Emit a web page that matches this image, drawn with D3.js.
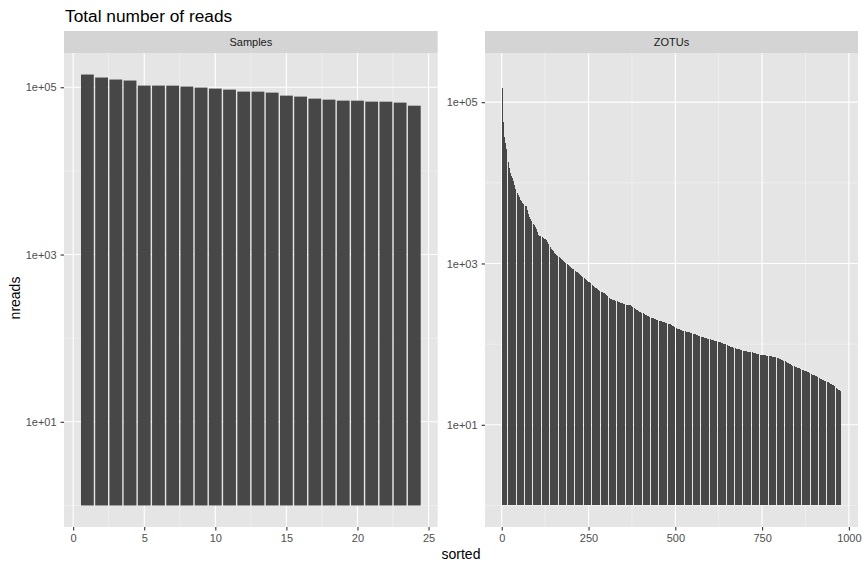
<!DOCTYPE html>
<html><head><meta charset="utf-8">
<script src="https://cdn.jsdelivr.net/npm/d3@7/dist/d3.min.js"></script>
<style>body{margin:0;background:#fff}svg{display:block}</style>
</head><body><svg id="c" width="866" height="569"></svg>
<script>
const chartTitle = "Total number of reads";
const xTitle = "sorted";
const yTitle = "nreads";
const facets = ["Samples", "ZOTUs"];

// reads per sample, sorted decreasingly (rank 1..24)
const sampleReads = [141900, 130700, 123700, 120300, 104700, 104600, 104500, 101900, 99100, 96400,
  93700, 88700, 88600, 86300, 79400, 77300, 73100, 71100, 69200, 69100, 67300, 67200, 65500, 60200];

// reads per ZOTU, sorted decreasingly (rank 1..977)
const zotuReads = [
  220000, 150000, 100000, 72000, 56000, 47000, 41000, 37500, 35000, 33000, 31200, 30000, 28800, 26500, 24500, 22500, 20800, 19500, 18300, 17200, 16200, 15300, 14400, 13700,
  13300, 12900, 12600, 12300, 12000, 11700, 11400, 11100, 10900,
  10500, 10100, 9700, 9300, 9000, 8700, 8400, 8200, 8000, 7800,
  7650, 7500, 7350, 7200, 7050, 6900, 6750, 6600, 6450, 6300, 6200, 6100, 6000, 5900,
  5820, 5760, 5700, 5640, 5580, 5520, 5460, 5400, 5340, 5280, 5230, 5180, 5140, 5100, 5060,
  4850, 4650, 4450, 4280, 4130, 4000, 3880, 3780, 3690, 3620,
  3560, 3500, 3440, 3390, 3330, 3270, 3220, 3160, 3110, 3060, 3010, 2960, 2910, 2860,
  2810, 2760, 2710, 2650, 2600,
  2510, 2430, 2340, 2260,
  2240, 2230, 2220, 2210, 2200, 2190, 2180, 2170, 2160, 2150,
  2130, 2110, 2090, 2070, 2050,
  2040, 2030, 2020, 2010, 2000, 1990, 1980, 1970, 1960, 1945,
  1900, 1860, 1820, 1780, 1740, 1700, 1670, 1640, 1610,
  1590, 1570, 1550, 1530, 1510, 1490, 1470, 1450, 1430, 1410, 1390, 1370, 1360, 1340, 1330, 1310, 1300, 1290, 1275,
  1265, 1255, 1245, 1235, 1225, 1210, 1200, 1190, 1180, 1170, 1160, 1150, 1140, 1130, 1120, 1110, 1100, 1090, 1080, 1070, 1060, 1050, 1045, 1040, 1030, 1025, 1020, 1010, 1000,
  992, 984, 976, 968, 960, 952, 944, 936, 928, 920, 912, 904, 896, 888, 880, 872, 864, 857, 850, 843, 836, 829, 822, 815, 808, 802, 796, 792, 789,
  783, 777, 771, 765, 759, 753, 747, 741, 735, 729, 723, 717, 711, 705, 699, 693, 687, 681, 675, 669, 663, 657, 651, 646, 641, 636, 631, 626, 622,
  617, 612, 607, 602, 597, 592, 587, 582, 577, 572, 567, 562, 557, 552, 547, 542, 537, 532, 527, 522, 518, 514, 510, 506, 502, 499, 496, 493, 491,
  487, 483, 478, 474, 470, 466, 462, 458, 454,
  452, 450, 448, 446, 444, 442, 440, 437, 434, 431, 428, 426, 425, 423,
  419, 415, 411, 407, 403, 399, 395, 391, 387, 383, 380, 377, 374, 371, 368,
  366, 364, 362, 361, 360, 358, 356, 355, 354, 352, 350, 349, 348, 347, 346, 345, 344, 343, 342, 341, 340, 338, 337, 335, 334, 333, 331, 330, 328,
  327, 326, 325, 324, 323, 322, 321, 320, 319, 318, 317, 316, 315, 314, 313, 312, 311, 310, 309, 308, 307, 307, 306, 306, 305, 305, 304, 304, 304,
  302, 300, 298, 296, 294, 292, 290, 288, 286, 284, 282, 280, 278, 276, 274, 272, 270, 268, 266, 264, 262, 260, 258, 257, 256, 254, 253, 251,
  250, 249, 248, 247, 245, 244, 243, 242, 241, 240, 238, 237, 236, 235, 234, 232, 231, 230, 229, 228, 226, 225, 224, 223, 222, 221, 220, 219, 217,
  216, 215, 214, 213, 213, 212, 211, 210, 209, 208, 208, 207, 206, 205, 204, 203, 203, 202, 201, 200, 199, 199, 198, 197, 197, 196, 195, 195, 194,
  193, 193, 192, 192, 191, 190, 190, 189, 189, 188, 187, 187, 186, 186, 185, 184, 184, 183, 183, 182, 181, 181, 180, 180, 179, 179, 178, 178, 177,
  176, 175, 174, 173, 172, 171, 170, 169, 168, 167, 166, 164, 163, 161,
  160, 160, 159, 158, 158, 157, 156, 156, 155, 154, 154, 153, 152, 152, 151, 150, 150, 149, 148, 148, 147, 147, 146, 146,
  146, 145, 145, 145, 144, 144, 144, 143, 143, 143, 142, 142, 142, 141, 141, 141, 141, 140, 140, 140,
  139, 139, 138, 138, 137, 137, 136, 136, 135, 134, 134, 133, 133, 132, 132, 131, 131, 130, 130, 129, 129, 128, 128, 127, 127, 126, 126, 125,
  125, 124, 124, 124, 123, 123, 122, 122, 122, 121, 121, 120, 120, 120, 119, 119, 118, 118, 118, 117, 117, 117, 116, 116, 116, 116, 115, 115, 115,
  115, 114, 114, 114, 113, 113, 112, 112, 112, 111, 111, 111, 110, 110, 110, 109, 109, 109, 108, 108, 108, 107, 107, 107, 106, 106, 106, 105, 105,
  105, 104, 104, 103, 103, 103, 102, 102, 101, 101, 101, 100, 100, 99, 99, 99, 98, 98, 97, 97, 97, 96, 96, 95, 95, 95, 94, 94, 94,
  93, 93, 93, 92, 92, 92, 91, 91, 91, 90, 90, 90, 90, 89, 89, 89, 88, 88, 88, 88, 87, 87, 87, 87, 86, 86, 86, 86, 86,
  85, 85, 85, 85, 84, 84, 84, 84, 83, 83, 83, 83, 83, 82, 82, 82, 82, 82, 81, 81, 81, 81, 81, 81, 80, 80, 80, 80, 80,
  80, 79, 79, 79, 79, 79, 78, 78, 78, 78, 78, 77, 77, 77, 77, 77, 76, 76, 76, 76, 76, 76, 75, 75, 75, 75, 75, 75,
  74, 74, 74, 74, 74, 74, 74, 74, 73, 73, 73, 73, 73, 73, 73, 73, 73, 73, 72, 72, 72, 72, 72, 72, 72, 72, 72, 72, 71,
  71, 71, 71, 71, 71, 70, 70, 70, 70, 70, 70, 69, 69, 69, 69, 69, 68, 68, 68, 68, 68, 67, 67, 67, 67, 67, 66, 66, 66,
  65, 65, 65, 64, 64, 64, 63, 63, 63, 62, 62, 62, 61, 61, 61, 60, 60, 60, 59, 59, 59, 58, 58, 58, 57, 57, 57, 56, 56,
  56, 56, 55, 55, 55, 55, 54, 54, 54, 54, 53, 53, 53, 53, 52, 52, 52, 52, 52, 51, 51, 51, 51, 51, 50, 50, 50, 50, 50,
  49, 49, 49, 49, 49, 48, 48, 48, 48, 48, 47, 47, 47, 47, 46, 46, 46, 46, 46, 45, 45, 45, 45, 45, 44, 44, 44, 44, 44,
  43, 43, 43, 43, 42, 42, 42, 42, 42, 41, 41, 41, 41, 40, 40, 40, 40, 40, 39, 39, 39, 39, 39, 38, 38, 38, 38, 38,
  37, 37, 37, 37, 37, 37, 36, 36, 36, 36, 36, 36, 35, 35, 35, 35, 35, 35, 34, 34, 34, 34, 34, 34, 33, 33, 33, 33, 33,
  32, 32, 32, 32, 32, 31, 31, 31, 31, 31, 30, 30, 30, 30, 30, 29, 29, 29, 29,
  28, 28, 28, 28, 27, 27, 27, 27, 27, 26, 26, 26
];

const yTickValues = [10, 1000, 100000];
const yTickLabels = ["1e+01", "1e+03", "1e+05"];
const yMinorValues = [1, 100, 10000];
const sampleXTicks = [0, 5, 10, 15, 20, 25];
const zotuXTicks = [0, 250, 500, 750, 1000];

const FONT = "'Liberation Sans', Arial, Helvetica, sans-serif";
const svg = d3.select("#c");
const panelTop = 53, panelBottom = 527, stripTop = 31;
const panels = [
  {name: facets[0], values: sampleReads, xticks: sampleXTicks, x0: 64, x1: 437.7},
  {name: facets[1], values: zotuReads, xticks: zotuXTicks, x0: 485, x1: 858}
];

svg.append("rect").attr("width", 866).attr("height", 569).attr("fill", "#fff");

panels.forEach(p => {
  const n = p.values.length;
  const lo = 0.55, hi = n + 0.45, span = hi - lo;
  const x = d3.scaleLinear().domain([lo - 0.05 * span, hi + 0.05 * span]).range([p.x0, p.x1]);
  const L = Math.log10(d3.max(p.values));
  const y = d3.scaleLog().domain([Math.pow(10, -0.05 * L), Math.pow(10, 1.05 * L)]).range([panelBottom, panelTop]);
  const g = svg.append("g");

  // panel background
  g.append("rect").attr("x", p.x0).attr("y", panelTop).attr("width", p.x1 - p.x0)
    .attr("height", panelBottom - panelTop).attr("fill", "#E5E5E5");

  // minor grid
  const xMinor = d3.pairs(p.xticks).map(([a, b]) => (a + b) / 2);
  g.selectAll(".ymin").data(yMinorValues).join("line")
    .attr("x1", p.x0).attr("x2", p.x1).attr("y1", d => y(d)).attr("y2", d => y(d))
    .attr("stroke", "#F5F5F5").attr("stroke-width", 0.55);
  g.selectAll(".xmin").data(xMinor).join("line")
    .attr("y1", panelTop).attr("y2", panelBottom).attr("x1", d => x(d)).attr("x2", d => x(d))
    .attr("stroke", "#F5F5F5").attr("stroke-width", 0.55);
  // major grid
  g.selectAll(".ymaj").data(yTickValues).join("line")
    .attr("x1", p.x0).attr("x2", p.x1).attr("y1", d => y(d)).attr("y2", d => y(d))
    .attr("stroke", "#fff").attr("stroke-width", 1.1);
  g.selectAll(".xmaj").data(p.xticks).join("line")
    .attr("y1", panelTop).attr("y2", panelBottom).attr("x1", d => x(d)).attr("x2", d => x(d))
    .attr("stroke", "#fff").attr("stroke-width", 1.1);

  // bars
  g.append("g").attr("shape-rendering", n > 100 ? "crispEdges" : "auto")
    .selectAll("rect").data(p.values).join("rect")
    .attr("x", (d, i) => x(i + 1 - 0.45))
    .attr("width", (d, i) => x(i + 1 + 0.45) - x(i + 1 - 0.45))
    .attr("y", d => y(d))
    .attr("height", d => y(1) - y(d))
    .attr("fill", "#474747");

  // strip
  g.append("rect").attr("x", p.x0).attr("y", stripTop).attr("width", p.x1 - p.x0)
    .attr("height", panelTop - stripTop).attr("fill", "#D4D4D4");
  g.append("text").attr("x", (p.x0 + p.x1) / 2).attr("y", 46.3)
    .attr("text-anchor", "middle").attr("font-family", FONT).attr("font-size", 11)
    .attr("fill", "#1A1A1A").text(p.name);

  // y axis
  const ya = d3.axisLeft(y).tickValues(yTickValues).tickSize(3.4).tickPadding(4)
    .tickFormat((d, i) => yTickLabels[i]);
  const yg = g.append("g").attr("transform", `translate(${p.x0},0)`).call(ya);
  yg.select(".domain").remove();
  yg.selectAll(".tick line").attr("stroke", "#333").attr("stroke-width", 1.1);
  yg.selectAll(".tick text").attr("font-family", FONT).attr("font-size", 11).attr("fill", "#4D4D4D");

  // x axis
  const xa = d3.axisBottom(x).tickValues(p.xticks).tickSize(3.4).tickPadding(3.9).tickFormat(d3.format("d"));
  const xg = g.append("g").attr("transform", `translate(0,${panelBottom})`).call(xa);
  xg.select(".domain").remove();
  xg.selectAll(".tick line").attr("stroke", "#333").attr("stroke-width", 1.1);
  xg.selectAll(".tick text").attr("font-family", FONT).attr("font-size", 11).attr("fill", "#4D4D4D");
});

// titles
svg.append("text").attr("x", 65).attr("y", 21.5).attr("font-family", FONT).attr("font-size", 17.3)
  .attr("fill", "#000").text(chartTitle);
svg.append("text").attr("x", (64 + 858) / 2).attr("y", 559).attr("text-anchor", "middle")
  .attr("font-family", FONT).attr("font-size", 14).attr("fill", "#000").text(xTitle);
svg.append("text").attr("transform", `translate(20,298) rotate(-90)`)
  .attr("text-anchor", "middle").attr("font-family", FONT).attr("font-size", 14)
  .attr("fill", "#000").text(yTitle);
</script>
</body></html>
